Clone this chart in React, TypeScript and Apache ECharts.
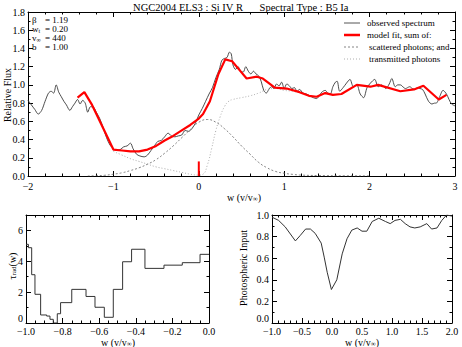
import React, { useEffect, useRef } from "react";
import * as echarts from "echarts";

// ---- Main panel: observed spectrum ----
const obsW = [-2.0,-1.96,-1.92,-1.88,-1.84,-1.8,-1.76,-1.73,-1.7,-1.67,-1.64,-1.61,-1.58,-1.55,-1.51,-1.48,-1.45,-1.42,-1.39,-1.36,-1.33,-1.3,-1.27,-1.24,-1.2,-1.16,-1.12,-1.08,-1.04,-1.0,-0.96,-0.92,-0.88,-0.84,-0.8,-0.77,-0.73,-0.69,-0.64,-0.6,-0.56,-0.52,-0.48,-0.44,-0.4,-0.36,-0.32,-0.28,-0.24,-0.2,-0.16,-0.12,-0.08,-0.04,0.0,0.04,0.08,0.12,0.16,0.2,0.24,0.27,0.3,0.33,0.36,0.38,0.4,0.43,0.46,0.49,0.52,0.55,0.58,0.61,0.64,0.67,0.7,0.73,0.76,0.79,0.82,0.85,0.88,0.91,0.94,0.97,1.0,1.03,1.06,1.09,1.12,1.15,1.18,1.22,1.26,1.3,1.34,1.38,1.41,1.44,1.48,1.51,1.54,1.57,1.6,1.62,1.65,1.69,1.73,1.77,1.81,1.85,1.89,1.93,1.97,2.01,2.06,2.1,2.14,2.19,2.23,2.26,2.3,2.33,2.36,2.4,2.42,2.47,2.5,2.53,2.56,2.59,2.62,2.65,2.69,2.73,2.76,2.78,2.82,2.86,2.9,2.93,2.96,3.0];
const obsFlux = [0.83,0.78,0.73,0.68,0.72,0.82,0.91,0.93,0.91,1.0,0.92,0.87,0.82,0.78,0.72,0.76,0.8,0.84,0.79,0.83,0.8,0.7,0.76,0.76,0.7,0.63,0.53,0.42,0.34,0.3,0.28,0.29,0.32,0.33,0.36,0.3,0.24,0.22,0.21,0.23,0.28,0.33,0.38,0.39,0.43,0.47,0.44,0.43,0.44,0.45,0.5,0.49,0.52,0.58,0.67,0.74,0.82,0.9,0.97,1.08,1.17,1.27,1.29,1.3,1.36,1.34,1.22,1.17,1.2,1.15,1.14,1.2,1.15,1.12,1.15,1.12,1.1,1.04,0.94,0.91,0.95,0.98,0.96,1.01,0.99,1.03,0.96,1.01,0.99,0.96,0.97,0.93,0.95,0.91,0.9,0.88,0.86,0.85,0.88,0.92,0.94,0.91,0.9,0.98,1.03,1.04,0.93,0.97,1.02,1.06,0.98,1.0,0.9,0.86,0.97,1.02,1.06,0.98,1.0,0.96,1.01,1.07,0.98,1.0,1.0,0.97,0.96,0.98,0.96,0.95,0.97,0.96,0.95,0.9,0.82,0.79,0.8,0.8,0.87,0.94,0.9,0.84,0.79,0.77];

// ---- Main panel: model fit ----
const fitW = [-1.42,-1.34,-1.25,-1.0,-0.9,-0.8,-0.7,-0.6,-0.5,-0.4,-0.3,-0.2,-0.1,0.0,0.05,0.13,0.23,0.31,0.39,0.47,0.56,0.68,0.75,0.89,1.03,1.18,1.29,1.38,1.48,1.57,1.67,1.85,2.01,2.1,2.36,2.52,2.63,2.81,2.9];
const fitFlux = [0.86,0.92,0.78,0.29,0.28,0.27,0.27,0.29,0.33,0.39,0.44,0.5,0.56,0.63,0.68,0.82,1.12,1.28,1.26,1.17,1.07,1.09,1.07,0.97,0.96,0.92,0.88,0.87,0.91,0.89,0.9,1.0,0.98,1.0,0.93,0.95,0.99,0.84,0.89];

// ---- Main panel: scattered photons ----
const scatW = [-1.3,-1.2,-1.1,-1.0,-0.9,-0.8,-0.7,-0.6,-0.5,-0.4,-0.3,-0.2,-0.1,0.0,0.1,0.2,0.3,0.4,0.5,0.6,0.7,0.8,0.9,1.0,1.1,1.2,1.4,1.7,2.0];
const scatFlux = [0.0,0.003,0.008,0.02,0.035,0.06,0.09,0.13,0.18,0.25,0.33,0.42,0.51,0.59,0.62,0.59,0.52,0.43,0.33,0.24,0.15,0.09,0.05,0.03,0.018,0.01,0.005,0.002,0.001];

// ---- Main panel: transmitted photons ----
const transW = [-1.0,-0.9,-0.8,-0.7,-0.6,-0.5,-0.4,-0.3,-0.2,-0.1,0.0,0.05,0.1,0.15,0.2,0.25,0.3,0.35,0.4,0.5,0.6,0.7,0.8,0.9,1.0,1.1,1.2];
const transFlux = [0.27,0.23,0.19,0.16,0.13,0.1,0.08,0.06,0.04,0.02,0.01,0.02,0.12,0.3,0.5,0.65,0.76,0.82,0.84,0.86,0.88,0.91,0.95,0.96,0.94,0.93,0.91];

// ---- Lower left: tau_rad(w) step function (bin left edges, values) ----
const tauEdges = [-1.0,-0.987,-0.969,-0.951,-0.92,-0.887,-0.869,-0.851,-0.829,-0.811,-0.75,-0.672,-0.623,-0.572,-0.523,-0.472,-0.423,-0.35,-0.246,-0.146,-0.049,0.0];
const tauValues = [5.1,4.88,3.13,1.86,0.52,0.45,0.24,0.0,0.6,1.32,2.18,1.72,1.02,0.37,2.18,3.97,4.78,3.54,3.75,3.91,4.45,4.45];

// ---- Lower right: photospheric input ----
const photW = [-1.0,-0.89,-0.78,-0.61,-0.53,-0.44,-0.36,-0.28,-0.18,-0.13,-0.08,-0.01,0.08,0.17,0.25,0.33,0.42,0.5,0.58,0.67,0.78,0.89,0.97,1.05,1.14,1.22,1.3,1.38,1.47,1.58,1.66,1.75,1.83,1.91,2.0];
const photFlux = [0.98,0.95,0.89,0.76,0.81,0.87,0.87,0.83,0.74,0.61,0.47,0.31,0.4,0.64,0.78,0.86,0.88,0.85,0.85,0.94,0.97,0.94,0.92,0.95,0.96,0.92,0.89,0.88,0.89,0.92,0.87,0.88,0.95,1.0,0.99];

// ---- Texts ----
const titleLeft = "NGC2004 ELS3 : Si IV R";
const titleRight = "Spectral Type : B5 Ia";
const legendLabels = ["observed spectrum", "model fit, sum of:", "scattered photons; and", "transmitted photons"];
const paramNames = ["{n|β}", "{n|w}{s|t}", "{n|v}{s|∞}", "{n|b}"];
const paramValues = ["1.19", "0.20", "440", "1.00"];

const FONT = "'Liberation Serif', 'DejaVu Serif', serif";
const zip = (a: number[], b: number[]) => a.map((v, i) => [v, b[i]]);
const num = (v: number, d: number) => (v < 0 ? "\u2212" : "") + Math.abs(v).toFixed(d);

function xAxes(grid: number, min: number, max: number, interval: number, minor: number, dec: number, margin: number) {
  const base = {
    gridIndex: grid, type: "value", min, max, interval,
    axisLine: { show: true, onZero: false, lineStyle: { color: "#000", width: 1 } },
    axisTick: { show: true, inside: true, length: 5, lineStyle: { color: "#000" } },
    minorTick: { show: true, splitNumber: minor, length: 2.5, lineStyle: { color: "#000" } },
    splitLine: { show: false },
  };
  return [
    { ...base, position: "bottom", axisLabel: { show: true, margin, fontFamily: FONT, fontSize: 10, lineHeight: 10, color: "#000", formatter: (v: number) => num(v, dec) } },
    { ...base, position: "top", axisLabel: { show: false } },
  ];
}
function yAxes(grid: number, min: number, max: number, interval: number, minor: number, dec: number, raiseMin: boolean, hide?: number) {
  const base = {
    gridIndex: grid, type: "value", min, max, interval,
    axisLine: { show: true, onZero: false, lineStyle: { color: "#000", width: 1 } },
    axisTick: { show: true, inside: true, length: 5, lineStyle: { color: "#000" } },
    minorTick: { show: true, splitNumber: minor, length: 2.5, lineStyle: { color: "#000" } },
    splitLine: { show: false },
  };
  const label: any = { show: true, margin: 3, fontFamily: FONT, fontSize: 10, lineHeight: 10, color: "#000", formatter: (v: number) => (hide !== undefined && v === hide ? "" : num(v, dec)) };
  if (raiseMin) label.verticalAlignMinLabel = "bottom";
  return [
    { ...base, position: "left", axisLabel: label },
    { ...base, position: "right", axisLabel: { show: false } },
  ];
}

const nameRich = {
  n: { fontFamily: FONT, fontSize: 10, lineHeight: 10, verticalAlign: "top", fill: "#000" },
  s: { fontFamily: FONT, fontSize: 7, lineHeight: 7, padding: [3, 0, 0, 0], verticalAlign: "bottom", fill: "#000" },
};
const paramRich = {
  n: { fontFamily: FONT, fontSize: 9, lineHeight: 9, verticalAlign: "top", fill: "#000" },
  s: { fontFamily: FONT, fontSize: 6, lineHeight: 6, padding: [3, 0, 0, 0], verticalAlign: "bottom", fill: "#000" },
};

export default function App() {
  const ref = useRef<HTMLDivElement>(null);
  useEffect(() => {
    if (!ref.current) return;
    const chart = echarts.init(ref.current, undefined, { renderer: "svg" });

    const legendRowsY = [23, 35, 47, 59];
    const legendLineStyles: any[] = [
      { stroke: "#555", lineWidth: 1 },
      { stroke: "#ff0000", lineWidth: 2.5 },
      { stroke: "#666", lineWidth: 0.8, lineDash: [2, 2] },
      { stroke: "#999", lineWidth: 0.8, lineDash: [1, 2] },
    ];
    const graphics: any[] = [];
    graphics.push({ type: "text", x: 188, y: 7, style: { text: titleLeft, font: `10.5px ${FONT}`, fill: "#000", align: "center", verticalAlign: "middle" } });
    graphics.push({ type: "text", x: 304, y: 7, style: { text: titleRight, font: `10.5px ${FONT}`, fill: "#000", align: "center", verticalAlign: "middle" } });
    legendLabels.forEach((t, i) => {
      graphics.push({ type: "line", shape: { x1: 344, y1: legendRowsY[i], x2: 360, y2: legendRowsY[i] }, style: legendLineStyles[i] });
      graphics.push({ type: "text", x: i < 2 ? 367 : 369, y: legendRowsY[i], style: { text: t, font: `9px ${FONT}`, fill: "#000", align: "left", verticalAlign: "middle" } });
    });
    paramNames.forEach((t, i) => {
      const y = 20 + i * 9;
      graphics.push({ type: "text", x: 32, y, style: { text: t, rich: paramRich, align: "left", verticalAlign: "middle" } });
      graphics.push({ type: "text", x: 45, y, style: { text: `= ${paramValues[i]}`, font: `9px ${FONT}`, fill: "#000", align: "left", verticalAlign: "middle" } });
    });
    // axis names
    const wName = "{n|w (v/v}{s|∞}{n|)}";
    graphics.push({ type: "text", x: 244, y: 197, style: { text: wName, rich: nameRich, align: "center", verticalAlign: "middle" } });
    graphics.push({ type: "text", x: 118, y: 342, style: { text: wName, rich: nameRich, align: "center", verticalAlign: "middle" } });
    graphics.push({ type: "text", x: 362, y: 342, style: { text: wName, rich: nameRich, align: "center", verticalAlign: "middle" } });
    graphics.push({ type: "text", x: 7, y: 95, rotation: Math.PI / 2, style: { text: "Relative Flux", font: `10px ${FONT}`, fill: "#000", align: "center", verticalAlign: "middle" } });
    graphics.push({ type: "text", x: 12, y: 266, rotation: Math.PI / 2, style: { text: "{n|τ}{s|rad}{n|(w)}", rich: nameRich, align: "center", verticalAlign: "middle" } });
    graphics.push({ type: "text", x: 243, y: 268, rotation: Math.PI / 2, style: { text: "Photospheric Input", font: `10px ${FONT}`, fill: "#000", align: "center", verticalAlign: "middle" } });

    const option: any = {
      animation: false,
      backgroundColor: "#fff",
      grid: [
        { left: 28, top: 12, width: 427, height: 164, outerBoundsMode: "none" },
        { left: 26, top: 215, width: 183, height: 108, outerBoundsMode: "none" },
        { left: 272, top: 215, width: 180, height: 108, outerBoundsMode: "none" },
      ],
      xAxis: [
        ...xAxes(0, -2, 3, 1, 5, 0, 5),
        ...xAxes(1, -1, 0, 0.2, 4, 1, 3),
        ...xAxes(2, -1, 2, 0.5, 5, 1, 3),
      ],
      yAxis: [
        ...yAxes(0, 0, 1.8, 0.2, 2, 1, false),
        ...yAxes(1, 0, 7, 2, 2, 0, true, 7),
        ...yAxes(2, 0, 1, 0.2, 2, 1, true),
      ],
      series: [
        { type: "line", xAxisIndex: 0, yAxisIndex: 0, data: zip(obsW, obsFlux), showSymbol: false, smooth: 0.3, lineStyle: { color: "#3a3a3a", width: 0.9 }, z: 2 },
        { type: "line", xAxisIndex: 0, yAxisIndex: 0, data: zip(scatW, scatFlux), showSymbol: false, smooth: true, lineStyle: { color: "#666", width: 0.8, type: [2, 2] }, z: 3 },
        { type: "line", xAxisIndex: 0, yAxisIndex: 0, data: zip(transW, transFlux), showSymbol: false, smooth: true, lineStyle: { color: "#999", width: 0.8, type: [1, 2] }, z: 3 },
        { type: "line", xAxisIndex: 0, yAxisIndex: 0, data: zip(fitW, fitFlux), showSymbol: false, lineStyle: { color: "#ff0000", width: 2.2 }, z: 4 },
        { type: "line", xAxisIndex: 0, yAxisIndex: 0, data: [[0, 0], [0, 0.16]], showSymbol: false, lineStyle: { color: "#ff0000", width: 2 }, z: 4 },
        { type: "line", xAxisIndex: 2, yAxisIndex: 2, data: zip(tauEdges, tauValues), step: "end", showSymbol: false, lineStyle: { color: "#333", width: 1 } },
        { type: "line", xAxisIndex: 4, yAxisIndex: 4, data: zip(photW, photFlux), showSymbol: false, lineStyle: { color: "#333", width: 1 } },
      ],
      graphic: graphics,
    };
    chart.setOption(option);
    return () => chart.dispose();
  }, []);
  return <div ref={ref} style={{ position: "fixed", left: 0, top: 0, width: 462, height: 347, background: "#fff" }} />;
}
